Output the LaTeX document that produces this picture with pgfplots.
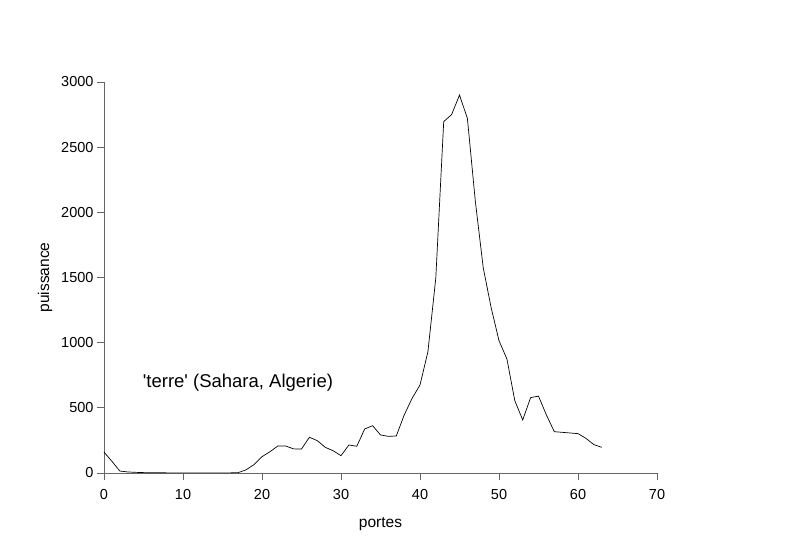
\documentclass[border=0pt]{standalone}
\usepackage{pgfplots}
\pgfplotsset{compat=1.18}
\usepackage{fontspec}
\setmainfont{Liberation Sans}
\begin{document}
\begin{tikzpicture}[x=1bp,y=1bp]
\path (0,0) rectangle (785,539);
\begin{axis}[
  at={(104bp,66bp)}, anchor=south west,
  scale only axis, width=553bp, height=391bp,
  xmin=0, xmax=70, ymin=0, ymax=3000,
  axis x line*=bottom, axis y line*=left,
  axis line style={draw=black!60, line width=0.9pt},
  every tick/.style={draw=black!60, line width=0.9pt},
  tick align=outside, major tick length=7bp,
  xtick={0,10,...,70}, ytick={0,500,...,3000},
  tick label style={font=\fontsize{14.5bp}{16bp}\selectfont},
  xticklabel style={yshift=-6bp},
  label style={font=\fontsize{15.5bp}{18bp}\selectfont},
  /pgf/number format/assume math mode=true,
  /pgf/number format/set thousands separator={},
  xlabel={portes}, ylabel={puissance},
  xlabel style={yshift=-11bp},
  ylabel style={yshift=2bp},
  clip=false,
]
\addplot[black, line width=0.7pt] coordinates {
(0,160) (1,90) (2,15) (3,8) (4,5) (5,3) (6,2) (7,2) (8,1) (9,1) (10,1)
(11,1) (12,1) (13,1) (14,1) (15,1) (16,1) (17,3) (18,25) (19,65) (20,125)
(21,163) (22,207) (23,207) (24,185) (25,184) (26,274) (27,248) (28,197)
(29,171) (30,133) (31,215) (32,205) (33,338) (34,363) (35,292) (36,281)
(37,284) (38,445) (39,573) (40,675) (41,930) (42,1496) (43,2696) (44,2750)
(45,2900) (46,2720) (47,2087) (48,1576) (49,1270) (50,1015) (51,875)
(52,555) (53,407) (54,578) (55,590) (56,445) (57,317) (58,312) (59,307)
(60,302) (61,266) (62,218) (63,197)
};
\node[anchor=west, font=\fontsize{18.5bp}{20bp}\selectfont, inner sep=0pt] at (axis cs:4.9,690) {\textquotesingle terre\textquotesingle{} (Sahara, Algerie)};
\end{axis}
\end{tikzpicture}
\end{document}
